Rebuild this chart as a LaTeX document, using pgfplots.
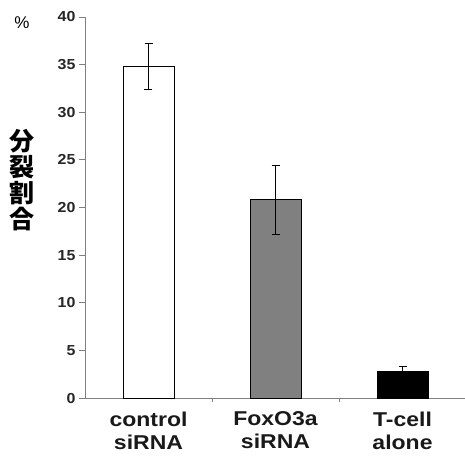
\documentclass[border=0pt]{standalone}
\usepackage{pgfplots}
\pgfplotsset{compat=1.18}
\usepackage{fontspec}
\setmainfont{Liberation Sans}
\newfontfamily\tickfont[FakeStretch=1.1]{Liberation Sans}
\newfontfamily\labfont[FakeStretch=1.15]{Liberation Sans}
\newfontfamily\jpfont{Noto Sans CJK JP}
\pgfplotsset{myerr/.style={error bars/y dir=both, error bars/y explicit,
  error bars/error bar style={black, line width=0.9pt},
  error bars/error mark options={rotate=90, mark size=4pt, black, line width=0.9pt}}}
\begin{document}
\begin{tikzpicture}
\begin{axis}[
  at={(0pt,0pt)}, anchor=south west,
  scale only axis, width=381pt, height=381pt,
  xmin=-0.5, xmax=2.5, ymin=0, ymax=40,
  axis x line=bottom, axis y line=left,
  axis line style={-, draw=gray, line width=0.8pt},
  ytick={0,5,...,40},
  ytick style={draw=gray, line width=0.8pt},
  tick align=outside, major tick length=6pt,
  yticklabel style={font=\tickfont\bfseries\fontsize{14.5}{14.5}\selectfont, text=black!85},
  /pgf/number format/assume math mode=true,
  xtick={0,1,2},
  xticklabels={{control\\siRNA},{FoxO3a\\siRNA},{T-cell\\alone}},
  xtick style={draw=none},
  xticklabel style={align=center, font=\labfont\bfseries\fontsize{20}{23}\selectfont, text=black!90, yshift=-4pt},
  extra x ticks={0.5,1.5},
  extra x tick labels={},
  extra x tick style={xtick style={draw=gray, line width=0.6pt}, major tick length=4pt},
  ybar, bar width=51pt, bar shift=0pt,
]
\addplot[fill=white, draw=black, line width=0.8pt, myerr] coordinates {(0,34.8) +- (0,2.4)};
\addplot[fill=gray, draw=black, line width=0.8pt, myerr] coordinates {(1,20.8) +- (0,3.6)};
\addplot[fill=black, draw=black, line width=0.8pt, myerr] coordinates {(2,2.8) +- (0,0.5)};
\end{axis}
\node[font=\jpfont\bfseries\fontsize{25}{26}\selectfont, align=center, inner sep=0pt] at (-63pt,218pt) {分\\裂\\割\\合};
\node[font=\fontsize{17}{17}\selectfont, inner sep=0pt] at (-63pt,375pt) {\%};
\pgfresetboundingbox
\path[use as bounding box] (-85pt,-61pt) rectangle (380pt,398pt);
\end{tikzpicture}
\end{document}
